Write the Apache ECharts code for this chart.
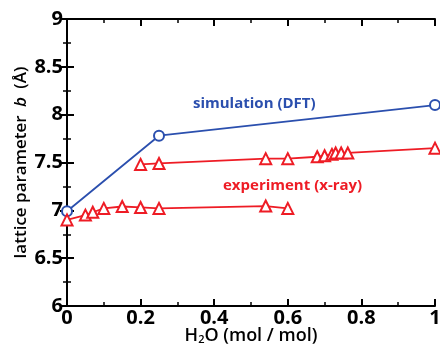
<!DOCTYPE html>
<html>
<head>
<meta charset="utf-8">
<script src="https://cdn.jsdelivr.net/npm/echarts@6/dist/echarts.min.js"></script>
<style>
  html, body { margin: 0; padding: 0; background: #fff; }
  #chart { width: 440px; height: 347px; }
</style>
</head>
<body>
<div id="chart"></div>
<script>
// simulation (DFT)
const simX = [0, 0.25, 1];
const simY = [6.99, 7.78, 8.10];
// experiment (x-ray), low branch
const expLowX = [0, 0.05, 0.07, 0.10, 0.15, 0.20, 0.25, 0.54, 0.60];
const expLowY = [6.90, 6.95, 6.98, 7.02, 7.04, 7.03, 7.02, 7.045, 7.02];
// experiment (x-ray), high branch
const expHighX = [0.20, 0.25, 0.54, 0.60, 0.68, 0.70, 0.72, 0.73, 0.745, 0.763, 1.0];
const expHighY = [7.48, 7.49, 7.54, 7.54, 7.56, 7.57, 7.585, 7.60, 7.60, 7.60, 7.65];

const xTicks = [0, 0.2, 0.4, 0.6, 0.8, 1];
const yTicks = [6, 6.5, 7, 7.5, 8, 8.5, 9];

const blue = '#2b4fae';
const red = '#ee1c25';
const font = '"Open Sans", sans-serif';

const pairs = (xs, ys) => xs.map((x, i) => [x, ys[i]]);

const chart = echarts.init(document.getElementById('chart'));

// fresh copy per axis
const frame = () => ({
    axisLine: {show: true, lineStyle: {color: '#000', width: 2}},
    axisTick: {show: true, inside: true, length: 7, lineStyle: {color: '#000', width: 2}},
    minorTick: {show: true, splitNumber: 2, length: 4, lineStyle: {color: '#000', width: 1.5}},
    splitLine: {show: false}
});

const tickLabel = {color: '#000', fontSize: 20, fontWeight: 'bold', fontFamily: font, margin: 4};

chart.setOption({
    animation: false,
    grid: {left: 67, right: 5, top: 19, bottom: 41, outerBoundsMode: 'none'},
    xAxis: [
        Object.assign(frame(), {
            type: 'value', min: 0, max: 1, interval: 0.2,
            name: 'H{sub|2}O (mol / mol)',
            nameLocation: 'middle',
            nameGap: 20,
            nameMoveOverlap: false,
            nameTextStyle: {
                color: '#000', fontSize: 18, fontWeight: 600, fontFamily: font,
                rich: {sub: {fontSize: 11, fontWeight: 600, fontFamily: font, color: '#000', padding: [8, 0, 0, 0]}}
            },
            axisLabel: Object.assign({}, tickLabel, {
                margin: 2,
                formatter: v => xTicks.includes(+v.toFixed(1)) ? String(+v.toFixed(1)) : ''
            })
        }),
        Object.assign(frame(), {
            type: 'value', min: 0, max: 1, interval: 0.2, position: 'top',
            axisLabel: {show: false}
        })
    ],
    yAxis: [
        Object.assign(frame(), {
            type: 'value', min: 6, max: 9, interval: 0.5,
            name: 'lattice parameter {i|b} (Å)',
            nameLocation: 'middle',
            nameRotate: 90,
            nameGap: 37,
            nameMoveOverlap: false,
            nameTextStyle: {
                color: '#000', fontSize: 17, fontWeight: 600, fontFamily: font,
                rich: {i: {fontSize: 17, fontWeight: 600, fontStyle: 'italic', fontFamily: font, color: '#000', padding: [0, 4, 0, 4]}}
            },
            axisLabel: Object.assign({}, tickLabel, {
                formatter: v => yTicks.includes(+v.toFixed(1)) ? String(+v.toFixed(1)) : ''
            })
        }),
        Object.assign(frame(), {
            type: 'value', min: 6, max: 9, interval: 0.5, position: 'right',
            axisLabel: {show: false}
        })
    ],
    series: [
        {
            name: 'simulation (DFT)', type: 'line',
            data: pairs(simX, simY),
            symbol: 'emptyCircle', symbolSize: 10,
            lineStyle: {color: blue, width: 1.8},
            itemStyle: {color: blue, borderWidth: 2},
            z: 3
        },
        {
            name: 'experiment low', type: 'line',
            data: pairs(expLowX, expLowY),
            symbol: 'emptyTriangle', symbolSize: 11,
            lineStyle: {color: red, width: 1.8},
            itemStyle: {color: red, borderWidth: 2}
        },
        {
            name: 'experiment high', type: 'line',
            data: pairs(expHighX, expHighY),
            symbol: 'emptyTriangle', symbolSize: 11,
            lineStyle: {color: red, width: 1.8},
            itemStyle: {color: red, borderWidth: 2}
        }
    ],
    graphic: [
        {type: 'text', left: 193, top: 96,
         style: {text: 'simulation (DFT)', fill: blue, font: 'bold 15px "Open Sans", sans-serif'}},
        {type: 'text', left: 223, top: 178,
         style: {text: 'experiment (x-ray)', fill: red, font: 'bold 15px "Open Sans", sans-serif'}}
    ]
});
</script>
</body>
</html>
